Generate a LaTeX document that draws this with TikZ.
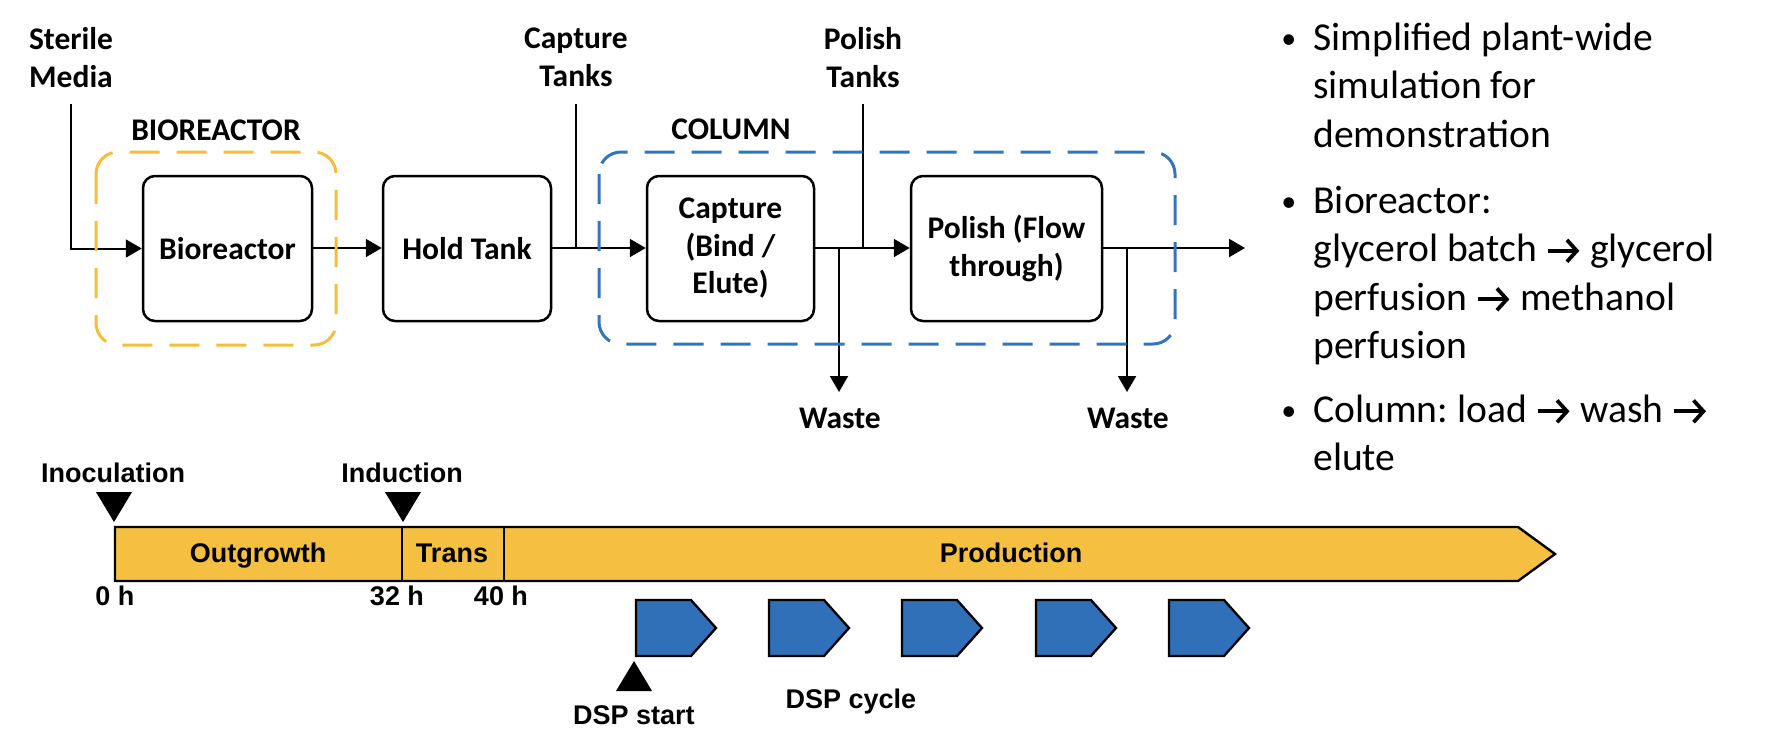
\documentclass[tikz,border=0pt]{standalone}
\usepackage{fontspec}
\setmainfont{Carlito}
\newfontfamily\arialfont{Liberation Sans}
\usetikzlibrary{arrows.meta}
\definecolor{barGold}{HTML}{F5C042}
\definecolor{dashGold}{HTML}{F4BE3C}
\definecolor{dashBlue}{HTML}{3473BD}
\definecolor{cycBlue}{HTML}{2F70B8}
\newcommand{\ra}{\tikz[baseline=-0.27em]\draw[line width=0.095em, line cap=butt,
  -{Straight Barb[length=0.25em, width=0.55em, line width=0.095em]}] (0,0) -- (0.8em,0);}
\frenchspacing
\begin{document}
\begin{tikzpicture}[x=0.5pt,y=-0.5pt,
  every node/.style={inner sep=0pt},
  unit/.style={draw, line width=1.25pt, rounded corners=6pt, minimum height=72.5pt, align=center,
    font=\bfseries\fontsize{15.75}{18.75}\selectfont},
  lbl/.style={align=center, font=\bfseries\fontsize{15.75}{19.25}\selectfont},
  flow/.style={line width=1pt},
  arr/.style={flow, -{Triangle[length=8pt,width=9pt]}},
  grp/.style={line width=1.5pt, dash pattern=on 15pt off 8.5pt, rounded corners=11pt},
  tl/.style={anchor=base, font=\arialfont\bfseries\fontsize{13.5}{16}\selectfont},
  tri/.style={fill=black},
  cyc/.style={fill=cycBlue, draw=black, line width=1.15pt},
  bline/.style={anchor=base west, font=\fontsize{19.8}{24}\selectfont},
  bdot/.style={anchor=base west, font=\fontsize{15}{18}\selectfont},
]
\useasboundingbox (0,0) rectangle (1768,750);

% ---------- process units ----------
\node[unit, minimum width=84.5pt] (bio) at (227.5,248.5) {Bioreactor};
\node[unit, minimum width=84pt] (hold) at (467,248.5) {Hold Tank};
\node[unit, minimum width=83.5pt] (cap) at (730.5,248.5) {Capture\\(Bind /\\Elute)};
\node[unit, minimum width=95.5pt] (pol) at (1006.5,248.5) {Polish (Flow\\through)};

% ---------- labels ----------
\node[lbl] (sm) at (71,57.5) {Sterile\\Media};
\node[lbl] (ct) at (576,57.5) {Capture\\Tanks};
\node[lbl] (pt) at (863,57.5) {Polish\\Tanks};
\node[lbl] (bl) at (216,130) {BIOREACTOR};
\node[lbl] (cl) at (731,129) {COLUMN};
\node[lbl] (w1) at (840,418) {Waste};
\node[lbl] (w2) at (1128,418) {Waste};

% ---------- connectors ----------
\coordinate (s0) at (71,104);
\coordinate (c0) at (576,104);
\coordinate (cj) at (576,248);
\coordinate (p0) at (863,104);
\coordinate (pj) at (863,248);
\coordinate (wj1) at (839,248);
\coordinate (wt1) at (839,392);
\coordinate (wj2) at (1127,248);
\coordinate (wt2) at (1127,392);
\coordinate (out) at (1245,248);

\draw[arr] (s0) |- (bio.west);
\draw[arr] (bio.east |- 0,248) -- (hold.west |- 0,248);
\draw[arr] (hold.east |- 0,248) -- (cap.west |- 0,248);
\draw[flow] (c0) -- (cj);
\draw[arr] (cap.east |- 0,248) -- (pol.west |- 0,248);
\draw[flow] (p0) -- (pj);
\draw[arr] (wj1) -- (wt1);
\draw[arr] (pol.east |- 0,248) -- (out);
\draw[arr] (wj2) -- (wt2);

% ---------- group boxes ----------
\draw[grp, dashGold] (96,152) rectangle (336,345);
\draw[grp, dashBlue] (599,152) rectangle (1175,344);

% ---------- timeline ----------
\draw[fill=barGold, line width=1.2pt] (115,527) -- (1518,527) -- (1555,554) -- (1518,581) -- (115,581) -- cycle;
\draw[line width=1.2pt] (402,527) -- (402,581);
\draw[line width=1.2pt] (504,527) -- (504,581);

\node[tl] (tout) at (258,562) {Outgrowth};
\node[tl] (ttr) at (452,562) {Trans};
\node[tl] (tprod) at (1011,562) {Production};

\node[tl] (inoc) at (113,482) {Inoculation};
\node[tl] (induc) at (402,482) {Induction};
\fill[tri] (96,492) -- (132,492) -- (114,522) -- cycle;
\fill[tri] (385,492) -- (421,492) -- (403,522) -- cycle;

\node[tl] (h0) at (115,605) {0 h};
\node[tl] (h32) at (397,605) {32 h};
\node[tl] (h40) at (501,605) {40 h};

\foreach \x in {636,769,902,1036,1169}{
  \draw[cyc] (\x,600) -- (\x+55,600) -- (\x+80,628) -- (\x+55,656) -- (\x,656) -- cycle;
}
\fill[tri] (616,691) -- (652,691) -- (634,661) -- cycle;
\node[tl] (dspS) at (634,724) {DSP start};
\node[tl] (dspC) at (851,708) {DSP cycle};

% ---------- bullets ----------
\node[bdot] (b1) at (1281,48) {•};
\node[bdot] (b2) at (1281,211) {•};
\node[bdot] (b3) at (1281,420) {•};
\node[bline] (l1) at (1313,50) {Simplified plant-wide};
\node[bline] (l2) at (1313,98.5) {simulation for};
\node[bline] (l3) at (1313,147) {demonstration};
\node[bline] (l4) at (1313,213) {Bioreactor:};
\node[bline] (l5) at (1313,261.5) {glycerol batch \ra{} glycerol};
\node[bline] (l6) at (1313,310) {perfusion \ra{} methanol};
\node[bline] (l7) at (1313,358.5) {perfusion};
\node[bline] (l8) at (1313,422) {Column: load \ra{} wash \ra};
\node[bline] (l9) at (1313,470) {elute};
\end{tikzpicture}
\end{document}
